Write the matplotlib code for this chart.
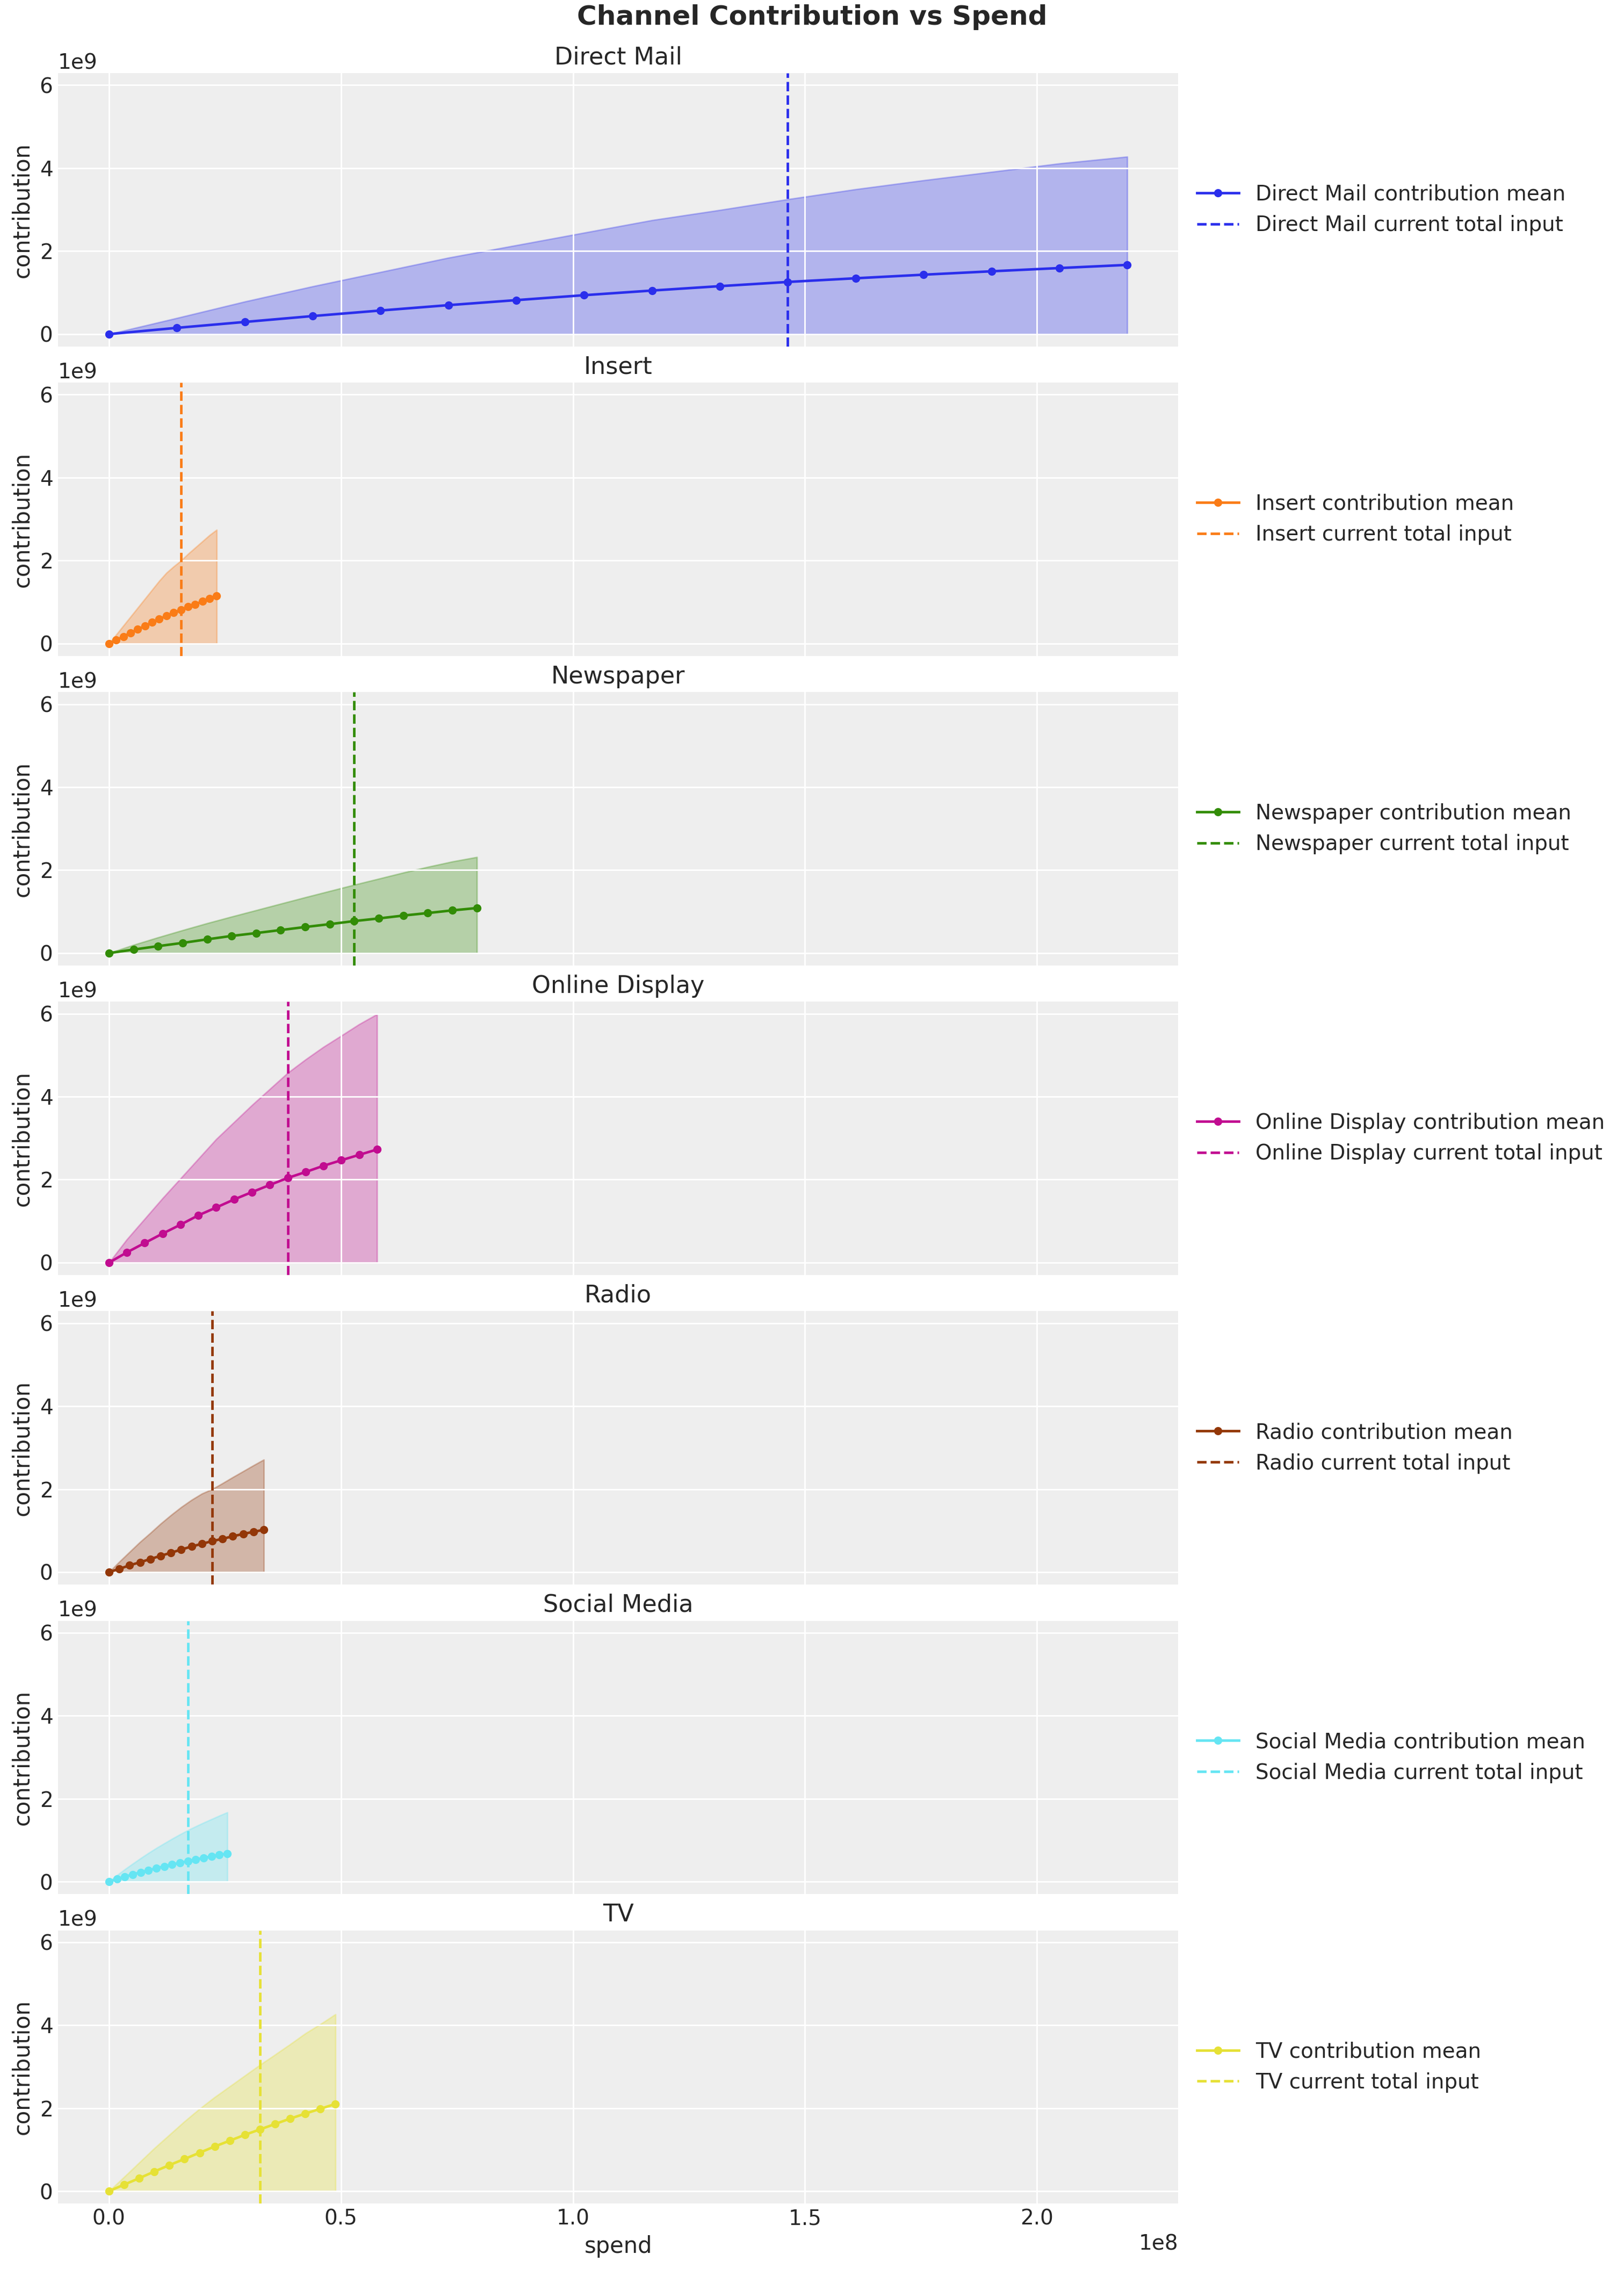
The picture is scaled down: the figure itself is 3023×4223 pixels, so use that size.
import numpy as np
import matplotlib
matplotlib.use("Agg")
import matplotlib.pyplot as plt

channels = ["Direct Mail", "Insert", "Newspaper", "Online Display", "Radio", "Social Media", "TV"]
colors = ["#2a2eec", "#fa7c17", "#328c06", "#c10c90", "#933708", "#65e5f3", "#e6e135"]

# current total input (spend) per channel
current_spend = [146.30e6, 15.47e6, 52.86e6, 38.51e6, 22.24e6, 17.00e6, 32.54e6]

# spend grid per channel (millions)
spend_direct_mail = [0, 14.63, 29.26, 43.89, 58.52, 73.15, 87.78, 102.41, 117.04, 131.67, 146.30, 160.93, 175.56, 190.19, 204.82, 219.45]
spend_insert = [0, 1.547, 3.094, 4.641, 6.188, 7.735, 9.282, 10.829, 12.376, 13.923, 15.47, 17.017, 18.564, 20.111, 21.658, 23.205]
spend_newspaper = [0, 5.286, 10.572, 15.858, 21.144, 26.43, 31.716, 37.002, 42.288, 47.574, 52.86, 58.146, 63.432, 68.718, 74.004, 79.29]
spend_online_display = [0, 3.851, 7.702, 11.553, 15.404, 19.255, 23.106, 26.957, 30.808, 34.659, 38.51, 42.361, 46.212, 50.063, 53.914, 57.765]
spend_radio = [0, 2.224, 4.448, 6.672, 8.896, 11.12, 13.344, 15.568, 17.792, 20.016, 22.24, 24.464, 26.688, 28.912, 31.136, 33.36]
spend_social_media = [0, 1.7, 3.4, 5.1, 6.8, 8.5, 10.2, 11.9, 13.6, 15.3, 17.0, 18.7, 20.4, 22.1, 23.8, 25.5]
spend_tv = [0, 3.254, 6.508, 9.762, 13.016, 16.27, 19.524, 22.778, 26.032, 29.286, 32.54, 35.794, 39.048, 42.302, 45.556, 48.81]

# contribution mean (billions)
mean_direct_mail = [0, 0.151, 0.293, 0.435, 0.569, 0.698, 0.819, 0.938, 1.050, 1.156, 1.257, 1.346, 1.432, 1.514, 1.592, 1.668]
mean_insert = [0, 0.086, 0.173, 0.259, 0.346, 0.423, 0.510, 0.592, 0.669, 0.747, 0.812, 0.886, 0.950, 1.015, 1.080, 1.145]
mean_newspaper = [0, 0.086, 0.168, 0.246, 0.332, 0.414, 0.483, 0.556, 0.629, 0.698, 0.772, 0.836, 0.905, 0.966, 1.030, 1.086]
mean_online_display = [0, 0.246, 0.474, 0.699, 0.914, 1.139, 1.328, 1.522, 1.699, 1.872, 2.040, 2.183, 2.333, 2.467, 2.597, 2.726]
mean_radio = [0, 0.078, 0.164, 0.237, 0.315, 0.393, 0.466, 0.544, 0.617, 0.682, 0.747, 0.803, 0.863, 0.920, 0.971, 1.019]
mean_social_media = [0, 0.060, 0.118, 0.173, 0.224, 0.274, 0.322, 0.368, 0.411, 0.453, 0.493, 0.532, 0.570, 0.607, 0.644, 0.679]
mean_tv = [0, 0.156, 0.311, 0.471, 0.627, 0.774, 0.925, 1.076, 1.215, 1.357, 1.487, 1.617, 1.747, 1.868, 1.984, 2.101]

# HDI upper bound (billions)
upper_direct_mail = [0, 0.388, 0.784, 1.151, 1.496, 1.841, 2.142, 2.444, 2.746, 2.991, 3.250, 3.491, 3.707, 3.909, 4.112, 4.276]
upper_insert = [0, 0.216, 0.432, 0.648, 0.864, 1.080, 1.296, 1.512, 1.706, 1.857, 1.996, 2.160, 2.311, 2.462, 2.613, 2.743]
upper_newspaper = [0, 0.198, 0.379, 0.552, 0.720, 0.879, 1.034, 1.190, 1.345, 1.496, 1.647, 1.793, 1.940, 2.078, 2.207, 2.315]
upper_online_display = [0, 0.561, 1.057, 1.553, 2.027, 2.502, 2.976, 3.386, 3.796, 4.184, 4.572, 4.895, 5.197, 5.469, 5.745, 5.987]
upper_radio = [0, 0.250, 0.488, 0.725, 0.941, 1.166, 1.373, 1.567, 1.740, 1.891, 1.999, 2.141, 2.288, 2.430, 2.573, 2.711]
upper_social_media = [0, 0.152, 0.296, 0.431, 0.562, 0.689, 0.808, 0.922, 1.032, 1.138, 1.239, 1.332, 1.421, 1.505, 1.590, 1.670]
upper_tv = [0, 0.341, 0.687, 1.033, 1.357, 1.681, 1.984, 2.265, 2.524, 2.784, 3.043, 3.289, 3.540, 3.799, 4.024, 4.262]

# HDI lower bound (billions)
lower_all = [0.0] * 16

spends = [spend_direct_mail, spend_insert, spend_newspaper, spend_online_display,
          spend_radio, spend_social_media, spend_tv]
means = [mean_direct_mail, mean_insert, mean_newspaper, mean_online_display,
         mean_radio, mean_social_media, mean_tv]
uppers = [upper_direct_mail, upper_insert, upper_newspaper, upper_online_display,
          upper_radio, upper_social_media, upper_tv]

plt.rcParams.update({
    "font.family": ["DejaVu Sans"],
    "axes.facecolor": "#eeeeee",
    "axes.edgecolor": "white",
    "axes.grid": True,
    "grid.color": "white",
    "grid.linewidth": 1.0,
    "axes.labelsize": 15,
    "axes.titlesize": 16,
    "xtick.labelsize": 14,
    "ytick.labelsize": 14,
    "legend.fontsize": 14,
    "xtick.major.size": 0,
    "ytick.major.size": 0,
    "text.color": "#262626",
    "axes.labelcolor": "#262626",
    "xtick.color": "#262626",
    "ytick.color": "#262626",
    "lines.linewidth": 1.7,
})

fig, axes = plt.subplots(7, 1, figsize=(15.115, 21.115), dpi=200,
                         sharex=True, sharey=True, layout="constrained")
fig.get_layout_engine().set(rect=(0.004, 0.003, 0.992, 0.994))

for ax, name, col, cur, sp, mn, up in zip(axes, channels, colors, current_spend,
                                          spends, means, uppers):
    x = np.array(sp) * 1e6
    ax.fill_between(x, np.array(lower_all) * 1e9, np.array(up) * 1e9,
                    color=col, alpha=0.3)
    ax.plot(x, np.array(mn) * 1e9, marker="o", markersize=4.5, color=col,
            label=f"{name} contribution mean")
    ax.axvline(cur, color=col, linestyle="--", label=f"{name} current total input")
    ax.set_title(name)
    ax.set_ylabel("contribution")
    for s in ax.spines.values():
        s.set_visible(False)
    ax.legend(loc="center left", bbox_to_anchor=(1, 0.5), frameon=False)

axes[-1].set_xlabel("spend")
fig.suptitle("Channel Contribution vs Spend", fontsize=18, fontweight="bold")
fig.savefig("out.png", dpi=200)
